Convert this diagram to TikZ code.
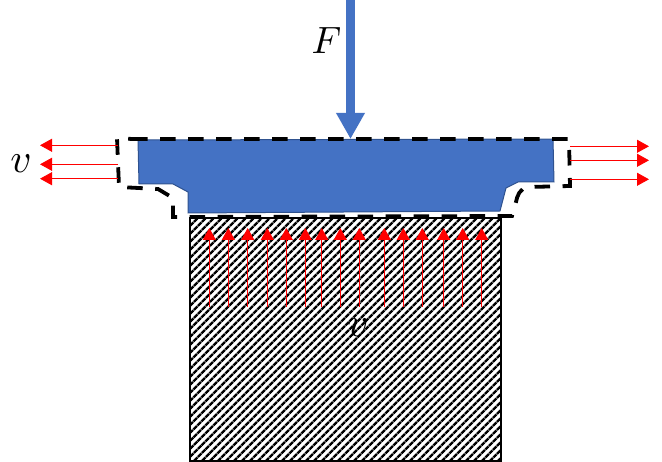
\documentclass[tikz,border=0pt]{standalone}
\usetikzlibrary{arrows.meta,patterns.meta}
\definecolor{punchblue}{HTML}{4472C4}
\definecolor{punchedge}{HTML}{2F528F}
\begin{document}
\begin{tikzpicture}[
    x=1pt, y=-1pt,
    block/.style={rectangle, draw, line width=2pt, inner sep=0pt, minimum width=311pt, minimum height=243pt, pattern={Lines[angle=45, distance=5.4pt, line width=2.6pt]}},
    flow/.style={-{Triangle[length=12pt, width=13pt]}, red, line width=1pt},
    force/.style={-{Triangle[length=26pt, width=27pt]}, punchblue, line width=9pt},
    punch/.style={fill=punchblue, draw=punchedge, line width=1pt},
    contour/.style={line width=3.8pt, dash pattern=on 15.5pt off 12.5pt},
    symbol/.style={inner sep=0pt, scale=3.8},
    speed/.style={inner sep=0pt, scale=4.1}
]
\useasboundingbox (0,0) rectangle (662,462);

% Lower block
\node[block] (die) at (345.5,339.5) {};

% Flow through the lower block
\foreach \px in {209.3,228.3,247.7,267.3,286.3,305.3,321.7,340.3,359.3,384.3,403.3,422.3,443.7,462.7,481.7} {
    \coordinate (upstart) at (\px,307);
    \coordinate (upend) at (\px,228);
    \draw[flow] (upstart) -- (upend);
}

% Upper body
\draw[punch] (138,140) -- (553,139) -- (554,182) -- (518,182) -- (506,188) -- (500,211)
    -- (188,213) -- (188,192) -- (173,184) -- (139,184) -- cycle;

% Dashed contour
\draw[contour] (132,139) -- (569,139) -- (570,186) -- (528,187)
    .. controls (520,188) and (517,196) .. (516,202) -- (512,216) -- (173,217) -- (173,198)
    -- (158,189) -- (119,187) -- (117,138) -- cycle;

% Load
\coordinate (loadtop) at (350.5,0);
\coordinate (loadtip) at (350.5,139);
\draw[force] (loadtop) -- (loadtip);
\node[symbol] (force) at (326.5,41) {$F$};

% Outflow left
\coordinate (lefta) at (118,145.3);
\coordinate (leftb) at (118,164.3);
\coordinate (leftc) at (118,178.7);
\coordinate (leftatip) at (40,145.3);
\coordinate (leftbtip) at (40,164.3);
\coordinate (leftctip) at (40,178.7);
\draw[flow] (lefta) -- (leftatip);
\draw[flow] (leftb) -- (leftbtip);
\draw[flow] (leftc) -- (leftctip);
\node[speed] (vleft) at (21,164) {$v$};

% Outflow right
\coordinate (righta) at (570,146.3);
\coordinate (rightb) at (570,160.3);
\coordinate (rightc) at (570,179.3);
\coordinate (rightatip) at (649,146.3);
\coordinate (rightbtip) at (649,160.3);
\coordinate (rightctip) at (649,179.3);
\draw[flow] (righta) -- (rightatip);
\draw[flow] (rightb) -- (rightbtip);
\draw[flow] (rightc) -- (rightctip);

\node[speed] (vdie) at (358,327.5) {$v$};

\end{tikzpicture}
\end{document}
